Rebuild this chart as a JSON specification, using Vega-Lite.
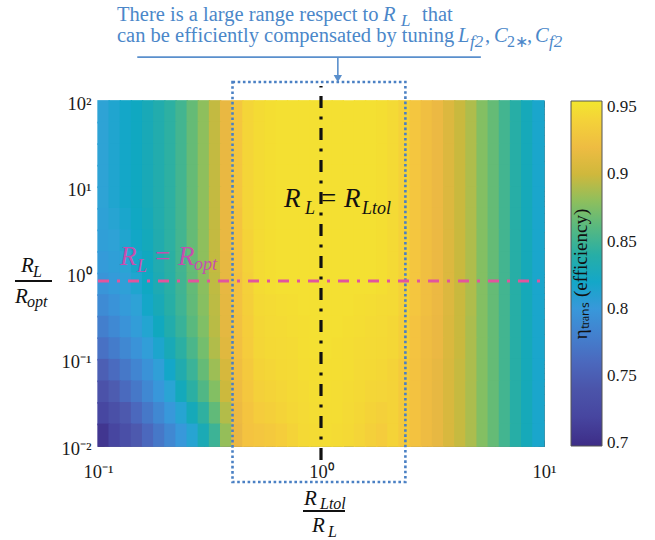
{
"$schema":"https://vega.github.io/schema/vega-lite/v6.json",
"width":446,"height":345,
"autosize":{"type":"none"},
"padding":{"left":98,"top":101,"right":111,"bottom":94},
"background":"white",
"config":{"view":{"stroke":"#7f7f7f","strokeWidth":1},"text":{"font":"Liberation Serif"},"axis":{"labelFont":"Liberation Serif"},"legend":{"labelFont":"Liberation Serif","titleFont":"Liberation Serif"}},
"datasets":{"eff":[
{"lx":-0.975,"ly":1.875,"eff":0.812},{"lx":-0.925,"ly":1.875,"eff":0.816},{"lx":-0.875,"ly":1.875,"eff":0.82},{"lx":-0.825,"ly":1.875,"eff":0.824},{"lx":-0.775,"ly":1.875,"eff":0.829},{"lx":-0.725,"ly":1.875,"eff":0.835},{"lx":-0.675,"ly":1.875,"eff":0.843},{"lx":-0.625,"ly":1.875,"eff":0.853},{"lx":-0.575,"ly":1.875,"eff":0.866},{"lx":-0.525,"ly":1.875,"eff":0.88},{"lx":-0.475,"ly":1.875,"eff":0.896},{"lx":-0.425,"ly":1.875,"eff":0.914},{"lx":-0.375,"ly":1.875,"eff":0.932},{"lx":-0.325,"ly":1.875,"eff":0.942},{"lx":-0.275,"ly":1.875,"eff":0.947},{"lx":-0.225,"ly":1.875,"eff":0.949},{"lx":-0.175,"ly":1.875,"eff":0.95},{"lx":-0.125,"ly":1.875,"eff":0.95},{"lx":-0.075,"ly":1.875,"eff":0.95},{"lx":-0.025,"ly":1.875,"eff":0.95},{"lx":0.025,"ly":1.875,"eff":0.95},{"lx":0.075,"ly":1.875,"eff":0.95},{"lx":0.125,"ly":1.875,"eff":0.95},{"lx":0.175,"ly":1.875,"eff":0.95},{"lx":0.225,"ly":1.875,"eff":0.95},{"lx":0.275,"ly":1.875,"eff":0.949},{"lx":0.325,"ly":1.875,"eff":0.946},{"lx":0.375,"ly":1.875,"eff":0.94},{"lx":0.425,"ly":1.875,"eff":0.932},{"lx":0.475,"ly":1.875,"eff":0.924},{"lx":0.525,"ly":1.875,"eff":0.916},{"lx":0.575,"ly":1.875,"eff":0.907},{"lx":0.625,"ly":1.875,"eff":0.898},{"lx":0.675,"ly":1.875,"eff":0.889},{"lx":0.725,"ly":1.875,"eff":0.877},{"lx":0.775,"ly":1.875,"eff":0.866},{"lx":0.825,"ly":1.875,"eff":0.853},{"lx":0.875,"ly":1.875,"eff":0.84},{"lx":0.925,"ly":1.875,"eff":0.828},{"lx":0.975,"ly":1.875,"eff":0.818},
{"lx":-0.975,"ly":1.625,"eff":0.812},{"lx":-0.925,"ly":1.625,"eff":0.816},{"lx":-0.875,"ly":1.625,"eff":0.82},{"lx":-0.825,"ly":1.625,"eff":0.824},{"lx":-0.775,"ly":1.625,"eff":0.829},{"lx":-0.725,"ly":1.625,"eff":0.835},{"lx":-0.675,"ly":1.625,"eff":0.843},{"lx":-0.625,"ly":1.625,"eff":0.853},{"lx":-0.575,"ly":1.625,"eff":0.866},{"lx":-0.525,"ly":1.625,"eff":0.88},{"lx":-0.475,"ly":1.625,"eff":0.896},{"lx":-0.425,"ly":1.625,"eff":0.914},{"lx":-0.375,"ly":1.625,"eff":0.932},{"lx":-0.325,"ly":1.625,"eff":0.942},{"lx":-0.275,"ly":1.625,"eff":0.947},{"lx":-0.225,"ly":1.625,"eff":0.949},{"lx":-0.175,"ly":1.625,"eff":0.95},{"lx":-0.125,"ly":1.625,"eff":0.95},{"lx":-0.075,"ly":1.625,"eff":0.95},{"lx":-0.025,"ly":1.625,"eff":0.95},{"lx":0.025,"ly":1.625,"eff":0.95},{"lx":0.075,"ly":1.625,"eff":0.95},{"lx":0.125,"ly":1.625,"eff":0.95},{"lx":0.175,"ly":1.625,"eff":0.95},{"lx":0.225,"ly":1.625,"eff":0.95},{"lx":0.275,"ly":1.625,"eff":0.949},{"lx":0.325,"ly":1.625,"eff":0.946},{"lx":0.375,"ly":1.625,"eff":0.94},{"lx":0.425,"ly":1.625,"eff":0.932},{"lx":0.475,"ly":1.625,"eff":0.924},{"lx":0.525,"ly":1.625,"eff":0.916},{"lx":0.575,"ly":1.625,"eff":0.907},{"lx":0.625,"ly":1.625,"eff":0.898},{"lx":0.675,"ly":1.625,"eff":0.889},{"lx":0.725,"ly":1.625,"eff":0.877},{"lx":0.775,"ly":1.625,"eff":0.866},{"lx":0.825,"ly":1.625,"eff":0.853},{"lx":0.875,"ly":1.625,"eff":0.84},{"lx":0.925,"ly":1.625,"eff":0.828},{"lx":0.975,"ly":1.625,"eff":0.818},
{"lx":-0.975,"ly":1.375,"eff":0.812},{"lx":-0.925,"ly":1.375,"eff":0.816},{"lx":-0.875,"ly":1.375,"eff":0.82},{"lx":-0.825,"ly":1.375,"eff":0.824},{"lx":-0.775,"ly":1.375,"eff":0.829},{"lx":-0.725,"ly":1.375,"eff":0.835},{"lx":-0.675,"ly":1.375,"eff":0.843},{"lx":-0.625,"ly":1.375,"eff":0.853},{"lx":-0.575,"ly":1.375,"eff":0.866},{"lx":-0.525,"ly":1.375,"eff":0.88},{"lx":-0.475,"ly":1.375,"eff":0.896},{"lx":-0.425,"ly":1.375,"eff":0.914},{"lx":-0.375,"ly":1.375,"eff":0.932},{"lx":-0.325,"ly":1.375,"eff":0.942},{"lx":-0.275,"ly":1.375,"eff":0.947},{"lx":-0.225,"ly":1.375,"eff":0.949},{"lx":-0.175,"ly":1.375,"eff":0.95},{"lx":-0.125,"ly":1.375,"eff":0.95},{"lx":-0.075,"ly":1.375,"eff":0.95},{"lx":-0.025,"ly":1.375,"eff":0.95},{"lx":0.025,"ly":1.375,"eff":0.95},{"lx":0.075,"ly":1.375,"eff":0.95},{"lx":0.125,"ly":1.375,"eff":0.95},{"lx":0.175,"ly":1.375,"eff":0.95},{"lx":0.225,"ly":1.375,"eff":0.95},{"lx":0.275,"ly":1.375,"eff":0.949},{"lx":0.325,"ly":1.375,"eff":0.946},{"lx":0.375,"ly":1.375,"eff":0.94},{"lx":0.425,"ly":1.375,"eff":0.932},{"lx":0.475,"ly":1.375,"eff":0.924},{"lx":0.525,"ly":1.375,"eff":0.916},{"lx":0.575,"ly":1.375,"eff":0.907},{"lx":0.625,"ly":1.375,"eff":0.898},{"lx":0.675,"ly":1.375,"eff":0.889},{"lx":0.725,"ly":1.375,"eff":0.877},{"lx":0.775,"ly":1.375,"eff":0.866},{"lx":0.825,"ly":1.375,"eff":0.853},{"lx":0.875,"ly":1.375,"eff":0.84},{"lx":0.925,"ly":1.375,"eff":0.828},{"lx":0.975,"ly":1.375,"eff":0.818},
{"lx":-0.975,"ly":1.125,"eff":0.812},{"lx":-0.925,"ly":1.125,"eff":0.816},{"lx":-0.875,"ly":1.125,"eff":0.82},{"lx":-0.825,"ly":1.125,"eff":0.824},{"lx":-0.775,"ly":1.125,"eff":0.829},{"lx":-0.725,"ly":1.125,"eff":0.835},{"lx":-0.675,"ly":1.125,"eff":0.843},{"lx":-0.625,"ly":1.125,"eff":0.853},{"lx":-0.575,"ly":1.125,"eff":0.866},{"lx":-0.525,"ly":1.125,"eff":0.88},{"lx":-0.475,"ly":1.125,"eff":0.896},{"lx":-0.425,"ly":1.125,"eff":0.914},{"lx":-0.375,"ly":1.125,"eff":0.932},{"lx":-0.325,"ly":1.125,"eff":0.942},{"lx":-0.275,"ly":1.125,"eff":0.947},{"lx":-0.225,"ly":1.125,"eff":0.949},{"lx":-0.175,"ly":1.125,"eff":0.95},{"lx":-0.125,"ly":1.125,"eff":0.95},{"lx":-0.075,"ly":1.125,"eff":0.95},{"lx":-0.025,"ly":1.125,"eff":0.95},{"lx":0.025,"ly":1.125,"eff":0.95},{"lx":0.075,"ly":1.125,"eff":0.95},{"lx":0.125,"ly":1.125,"eff":0.95},{"lx":0.175,"ly":1.125,"eff":0.95},{"lx":0.225,"ly":1.125,"eff":0.95},{"lx":0.275,"ly":1.125,"eff":0.949},{"lx":0.325,"ly":1.125,"eff":0.946},{"lx":0.375,"ly":1.125,"eff":0.94},{"lx":0.425,"ly":1.125,"eff":0.932},{"lx":0.475,"ly":1.125,"eff":0.924},{"lx":0.525,"ly":1.125,"eff":0.916},{"lx":0.575,"ly":1.125,"eff":0.907},{"lx":0.625,"ly":1.125,"eff":0.898},{"lx":0.675,"ly":1.125,"eff":0.889},{"lx":0.725,"ly":1.125,"eff":0.877},{"lx":0.775,"ly":1.125,"eff":0.866},{"lx":0.825,"ly":1.125,"eff":0.853},{"lx":0.875,"ly":1.125,"eff":0.84},{"lx":0.925,"ly":1.125,"eff":0.828},{"lx":0.975,"ly":1.125,"eff":0.818},
{"lx":-0.975,"ly":0.875,"eff":0.812},{"lx":-0.925,"ly":0.875,"eff":0.816},{"lx":-0.875,"ly":0.875,"eff":0.82},{"lx":-0.825,"ly":0.875,"eff":0.824},{"lx":-0.775,"ly":0.875,"eff":0.829},{"lx":-0.725,"ly":0.875,"eff":0.835},{"lx":-0.675,"ly":0.875,"eff":0.843},{"lx":-0.625,"ly":0.875,"eff":0.853},{"lx":-0.575,"ly":0.875,"eff":0.866},{"lx":-0.525,"ly":0.875,"eff":0.88},{"lx":-0.475,"ly":0.875,"eff":0.896},{"lx":-0.425,"ly":0.875,"eff":0.914},{"lx":-0.375,"ly":0.875,"eff":0.932},{"lx":-0.325,"ly":0.875,"eff":0.942},{"lx":-0.275,"ly":0.875,"eff":0.947},{"lx":-0.225,"ly":0.875,"eff":0.949},{"lx":-0.175,"ly":0.875,"eff":0.95},{"lx":-0.125,"ly":0.875,"eff":0.95},{"lx":-0.075,"ly":0.875,"eff":0.95},{"lx":-0.025,"ly":0.875,"eff":0.95},{"lx":0.025,"ly":0.875,"eff":0.95},{"lx":0.075,"ly":0.875,"eff":0.95},{"lx":0.125,"ly":0.875,"eff":0.95},{"lx":0.175,"ly":0.875,"eff":0.95},{"lx":0.225,"ly":0.875,"eff":0.95},{"lx":0.275,"ly":0.875,"eff":0.949},{"lx":0.325,"ly":0.875,"eff":0.946},{"lx":0.375,"ly":0.875,"eff":0.94},{"lx":0.425,"ly":0.875,"eff":0.932},{"lx":0.475,"ly":0.875,"eff":0.924},{"lx":0.525,"ly":0.875,"eff":0.916},{"lx":0.575,"ly":0.875,"eff":0.907},{"lx":0.625,"ly":0.875,"eff":0.898},{"lx":0.675,"ly":0.875,"eff":0.889},{"lx":0.725,"ly":0.875,"eff":0.877},{"lx":0.775,"ly":0.875,"eff":0.866},{"lx":0.825,"ly":0.875,"eff":0.853},{"lx":0.875,"ly":0.875,"eff":0.84},{"lx":0.925,"ly":0.875,"eff":0.828},{"lx":0.975,"ly":0.875,"eff":0.818},
{"lx":-0.975,"ly":0.625,"eff":0.81},{"lx":-0.925,"ly":0.625,"eff":0.814},{"lx":-0.875,"ly":0.625,"eff":0.818},{"lx":-0.825,"ly":0.625,"eff":0.823},{"lx":-0.775,"ly":0.625,"eff":0.828},{"lx":-0.725,"ly":0.625,"eff":0.835},{"lx":-0.675,"ly":0.625,"eff":0.843},{"lx":-0.625,"ly":0.625,"eff":0.853},{"lx":-0.575,"ly":0.625,"eff":0.866},{"lx":-0.525,"ly":0.625,"eff":0.88},{"lx":-0.475,"ly":0.625,"eff":0.896},{"lx":-0.425,"ly":0.625,"eff":0.914},{"lx":-0.375,"ly":0.625,"eff":0.931},{"lx":-0.325,"ly":0.625,"eff":0.942},{"lx":-0.275,"ly":0.625,"eff":0.947},{"lx":-0.225,"ly":0.625,"eff":0.949},{"lx":-0.175,"ly":0.625,"eff":0.95},{"lx":-0.125,"ly":0.625,"eff":0.95},{"lx":-0.075,"ly":0.625,"eff":0.95},{"lx":-0.025,"ly":0.625,"eff":0.95},{"lx":0.025,"ly":0.625,"eff":0.95},{"lx":0.075,"ly":0.625,"eff":0.95},{"lx":0.125,"ly":0.625,"eff":0.95},{"lx":0.175,"ly":0.625,"eff":0.95},{"lx":0.225,"ly":0.625,"eff":0.95},{"lx":0.275,"ly":0.625,"eff":0.949},{"lx":0.325,"ly":0.625,"eff":0.946},{"lx":0.375,"ly":0.625,"eff":0.94},{"lx":0.425,"ly":0.625,"eff":0.932},{"lx":0.475,"ly":0.625,"eff":0.924},{"lx":0.525,"ly":0.625,"eff":0.916},{"lx":0.575,"ly":0.625,"eff":0.907},{"lx":0.625,"ly":0.625,"eff":0.898},{"lx":0.675,"ly":0.625,"eff":0.889},{"lx":0.725,"ly":0.625,"eff":0.877},{"lx":0.775,"ly":0.625,"eff":0.866},{"lx":0.825,"ly":0.625,"eff":0.853},{"lx":0.875,"ly":0.625,"eff":0.84},{"lx":0.925,"ly":0.625,"eff":0.828},{"lx":0.975,"ly":0.625,"eff":0.818},
{"lx":-0.975,"ly":0.375,"eff":0.807},{"lx":-0.925,"ly":0.375,"eff":0.811},{"lx":-0.875,"ly":0.375,"eff":0.816},{"lx":-0.825,"ly":0.375,"eff":0.821},{"lx":-0.775,"ly":0.375,"eff":0.827},{"lx":-0.725,"ly":0.375,"eff":0.834},{"lx":-0.675,"ly":0.375,"eff":0.843},{"lx":-0.625,"ly":0.375,"eff":0.853},{"lx":-0.575,"ly":0.375,"eff":0.866},{"lx":-0.525,"ly":0.375,"eff":0.88},{"lx":-0.475,"ly":0.375,"eff":0.896},{"lx":-0.425,"ly":0.375,"eff":0.914},{"lx":-0.375,"ly":0.375,"eff":0.931},{"lx":-0.325,"ly":0.375,"eff":0.941},{"lx":-0.275,"ly":0.375,"eff":0.947},{"lx":-0.225,"ly":0.375,"eff":0.949},{"lx":-0.175,"ly":0.375,"eff":0.95},{"lx":-0.125,"ly":0.375,"eff":0.95},{"lx":-0.075,"ly":0.375,"eff":0.95},{"lx":-0.025,"ly":0.375,"eff":0.95},{"lx":0.025,"ly":0.375,"eff":0.95},{"lx":0.075,"ly":0.375,"eff":0.95},{"lx":0.125,"ly":0.375,"eff":0.95},{"lx":0.175,"ly":0.375,"eff":0.95},{"lx":0.225,"ly":0.375,"eff":0.95},{"lx":0.275,"ly":0.375,"eff":0.949},{"lx":0.325,"ly":0.375,"eff":0.946},{"lx":0.375,"ly":0.375,"eff":0.94},{"lx":0.425,"ly":0.375,"eff":0.932},{"lx":0.475,"ly":0.375,"eff":0.924},{"lx":0.525,"ly":0.375,"eff":0.916},{"lx":0.575,"ly":0.375,"eff":0.907},{"lx":0.625,"ly":0.375,"eff":0.898},{"lx":0.675,"ly":0.375,"eff":0.889},{"lx":0.725,"ly":0.375,"eff":0.877},{"lx":0.775,"ly":0.375,"eff":0.866},{"lx":0.825,"ly":0.375,"eff":0.853},{"lx":0.875,"ly":0.375,"eff":0.84},{"lx":0.925,"ly":0.375,"eff":0.828},{"lx":0.975,"ly":0.375,"eff":0.818},
{"lx":-0.975,"ly":0.125,"eff":0.803},{"lx":-0.925,"ly":0.125,"eff":0.808},{"lx":-0.875,"ly":0.125,"eff":0.813},{"lx":-0.825,"ly":0.125,"eff":0.819},{"lx":-0.775,"ly":0.125,"eff":0.825},{"lx":-0.725,"ly":0.125,"eff":0.833},{"lx":-0.675,"ly":0.125,"eff":0.842},{"lx":-0.625,"ly":0.125,"eff":0.853},{"lx":-0.575,"ly":0.125,"eff":0.866},{"lx":-0.525,"ly":0.125,"eff":0.88},{"lx":-0.475,"ly":0.125,"eff":0.896},{"lx":-0.425,"ly":0.125,"eff":0.913},{"lx":-0.375,"ly":0.125,"eff":0.93},{"lx":-0.325,"ly":0.125,"eff":0.94},{"lx":-0.275,"ly":0.125,"eff":0.947},{"lx":-0.225,"ly":0.125,"eff":0.949},{"lx":-0.175,"ly":0.125,"eff":0.95},{"lx":-0.125,"ly":0.125,"eff":0.95},{"lx":-0.075,"ly":0.125,"eff":0.95},{"lx":-0.025,"ly":0.125,"eff":0.95},{"lx":0.025,"ly":0.125,"eff":0.95},{"lx":0.075,"ly":0.125,"eff":0.95},{"lx":0.125,"ly":0.125,"eff":0.95},{"lx":0.175,"ly":0.125,"eff":0.95},{"lx":0.225,"ly":0.125,"eff":0.95},{"lx":0.275,"ly":0.125,"eff":0.949},{"lx":0.325,"ly":0.125,"eff":0.946},{"lx":0.375,"ly":0.125,"eff":0.94},{"lx":0.425,"ly":0.125,"eff":0.932},{"lx":0.475,"ly":0.125,"eff":0.924},{"lx":0.525,"ly":0.125,"eff":0.916},{"lx":0.575,"ly":0.125,"eff":0.907},{"lx":0.625,"ly":0.125,"eff":0.898},{"lx":0.675,"ly":0.125,"eff":0.889},{"lx":0.725,"ly":0.125,"eff":0.877},{"lx":0.775,"ly":0.125,"eff":0.866},{"lx":0.825,"ly":0.125,"eff":0.853},{"lx":0.875,"ly":0.125,"eff":0.84},{"lx":0.925,"ly":0.125,"eff":0.828},{"lx":0.975,"ly":0.125,"eff":0.818},
{"lx":-0.975,"ly":-0.125,"eff":0.797},{"lx":-0.925,"ly":-0.125,"eff":0.803},{"lx":-0.875,"ly":-0.125,"eff":0.809},{"lx":-0.825,"ly":-0.125,"eff":0.816},{"lx":-0.775,"ly":-0.125,"eff":0.823},{"lx":-0.725,"ly":-0.125,"eff":0.831},{"lx":-0.675,"ly":-0.125,"eff":0.841},{"lx":-0.625,"ly":-0.125,"eff":0.852},{"lx":-0.575,"ly":-0.125,"eff":0.865},{"lx":-0.525,"ly":-0.125,"eff":0.879},{"lx":-0.475,"ly":-0.125,"eff":0.895},{"lx":-0.425,"ly":-0.125,"eff":0.913},{"lx":-0.375,"ly":-0.125,"eff":0.929},{"lx":-0.325,"ly":-0.125,"eff":0.939},{"lx":-0.275,"ly":-0.125,"eff":0.947},{"lx":-0.225,"ly":-0.125,"eff":0.949},{"lx":-0.175,"ly":-0.125,"eff":0.95},{"lx":-0.125,"ly":-0.125,"eff":0.95},{"lx":-0.075,"ly":-0.125,"eff":0.95},{"lx":-0.025,"ly":-0.125,"eff":0.95},{"lx":0.025,"ly":-0.125,"eff":0.95},{"lx":0.075,"ly":-0.125,"eff":0.95},{"lx":0.125,"ly":-0.125,"eff":0.95},{"lx":0.175,"ly":-0.125,"eff":0.95},{"lx":0.225,"ly":-0.125,"eff":0.95},{"lx":0.275,"ly":-0.125,"eff":0.949},{"lx":0.325,"ly":-0.125,"eff":0.946},{"lx":0.375,"ly":-0.125,"eff":0.94},{"lx":0.425,"ly":-0.125,"eff":0.932},{"lx":0.475,"ly":-0.125,"eff":0.924},{"lx":0.525,"ly":-0.125,"eff":0.916},{"lx":0.575,"ly":-0.125,"eff":0.907},{"lx":0.625,"ly":-0.125,"eff":0.898},{"lx":0.675,"ly":-0.125,"eff":0.889},{"lx":0.725,"ly":-0.125,"eff":0.877},{"lx":0.775,"ly":-0.125,"eff":0.866},{"lx":0.825,"ly":-0.125,"eff":0.853},{"lx":0.875,"ly":-0.125,"eff":0.84},{"lx":0.925,"ly":-0.125,"eff":0.828},{"lx":0.975,"ly":-0.125,"eff":0.818},
{"lx":-0.975,"ly":-0.375,"eff":0.789},{"lx":-0.925,"ly":-0.375,"eff":0.796},{"lx":-0.875,"ly":-0.375,"eff":0.803},{"lx":-0.825,"ly":-0.375,"eff":0.811},{"lx":-0.775,"ly":-0.375,"eff":0.82},{"lx":-0.725,"ly":-0.375,"eff":0.829},{"lx":-0.675,"ly":-0.375,"eff":0.84},{"lx":-0.625,"ly":-0.375,"eff":0.851},{"lx":-0.575,"ly":-0.375,"eff":0.864},{"lx":-0.525,"ly":-0.375,"eff":0.878},{"lx":-0.475,"ly":-0.375,"eff":0.894},{"lx":-0.425,"ly":-0.375,"eff":0.912},{"lx":-0.375,"ly":-0.375,"eff":0.928},{"lx":-0.325,"ly":-0.375,"eff":0.938},{"lx":-0.275,"ly":-0.375,"eff":0.945},{"lx":-0.225,"ly":-0.375,"eff":0.947},{"lx":-0.175,"ly":-0.375,"eff":0.948},{"lx":-0.125,"ly":-0.375,"eff":0.949},{"lx":-0.075,"ly":-0.375,"eff":0.95},{"lx":-0.025,"ly":-0.375,"eff":0.95},{"lx":0.025,"ly":-0.375,"eff":0.95},{"lx":0.075,"ly":-0.375,"eff":0.95},{"lx":0.125,"ly":-0.375,"eff":0.95},{"lx":0.175,"ly":-0.375,"eff":0.949},{"lx":0.225,"ly":-0.375,"eff":0.948},{"lx":0.275,"ly":-0.375,"eff":0.947},{"lx":0.325,"ly":-0.375,"eff":0.946},{"lx":0.375,"ly":-0.375,"eff":0.94},{"lx":0.425,"ly":-0.375,"eff":0.932},{"lx":0.475,"ly":-0.375,"eff":0.924},{"lx":0.525,"ly":-0.375,"eff":0.916},{"lx":0.575,"ly":-0.375,"eff":0.907},{"lx":0.625,"ly":-0.375,"eff":0.898},{"lx":0.675,"ly":-0.375,"eff":0.889},{"lx":0.725,"ly":-0.375,"eff":0.877},{"lx":0.775,"ly":-0.375,"eff":0.866},{"lx":0.825,"ly":-0.375,"eff":0.853},{"lx":0.875,"ly":-0.375,"eff":0.84},{"lx":0.925,"ly":-0.375,"eff":0.828},{"lx":0.975,"ly":-0.375,"eff":0.818},
{"lx":-0.975,"ly":-0.625,"eff":0.779},{"lx":-0.925,"ly":-0.625,"eff":0.787},{"lx":-0.875,"ly":-0.625,"eff":0.796},{"lx":-0.825,"ly":-0.625,"eff":0.805},{"lx":-0.775,"ly":-0.625,"eff":0.815},{"lx":-0.725,"ly":-0.625,"eff":0.825},{"lx":-0.675,"ly":-0.625,"eff":0.836},{"lx":-0.625,"ly":-0.625,"eff":0.848},{"lx":-0.575,"ly":-0.625,"eff":0.861},{"lx":-0.525,"ly":-0.625,"eff":0.876},{"lx":-0.475,"ly":-0.625,"eff":0.893},{"lx":-0.425,"ly":-0.625,"eff":0.911},{"lx":-0.375,"ly":-0.625,"eff":0.927},{"lx":-0.325,"ly":-0.625,"eff":0.937},{"lx":-0.275,"ly":-0.625,"eff":0.944},{"lx":-0.225,"ly":-0.625,"eff":0.946},{"lx":-0.175,"ly":-0.625,"eff":0.947},{"lx":-0.125,"ly":-0.625,"eff":0.948},{"lx":-0.075,"ly":-0.625,"eff":0.949},{"lx":-0.025,"ly":-0.625,"eff":0.95},{"lx":0.025,"ly":-0.625,"eff":0.95},{"lx":0.075,"ly":-0.625,"eff":0.95},{"lx":0.125,"ly":-0.625,"eff":0.949},{"lx":0.175,"ly":-0.625,"eff":0.948},{"lx":0.225,"ly":-0.625,"eff":0.947},{"lx":0.275,"ly":-0.625,"eff":0.946},{"lx":0.325,"ly":-0.625,"eff":0.944},{"lx":0.375,"ly":-0.625,"eff":0.938},{"lx":0.425,"ly":-0.625,"eff":0.93},{"lx":0.475,"ly":-0.625,"eff":0.922},{"lx":0.525,"ly":-0.625,"eff":0.915},{"lx":0.575,"ly":-0.625,"eff":0.906},{"lx":0.625,"ly":-0.625,"eff":0.898},{"lx":0.675,"ly":-0.625,"eff":0.888},{"lx":0.725,"ly":-0.625,"eff":0.877},{"lx":0.775,"ly":-0.625,"eff":0.866},{"lx":0.825,"ly":-0.625,"eff":0.853},{"lx":0.875,"ly":-0.625,"eff":0.84},{"lx":0.925,"ly":-0.625,"eff":0.828},{"lx":0.975,"ly":-0.625,"eff":0.818},
{"lx":-0.975,"ly":-0.875,"eff":0.767},{"lx":-0.925,"ly":-0.875,"eff":0.776},{"lx":-0.875,"ly":-0.875,"eff":0.786},{"lx":-0.825,"ly":-0.875,"eff":0.796},{"lx":-0.775,"ly":-0.875,"eff":0.806},{"lx":-0.725,"ly":-0.875,"eff":0.817},{"lx":-0.675,"ly":-0.875,"eff":0.829},{"lx":-0.625,"ly":-0.875,"eff":0.842},{"lx":-0.575,"ly":-0.875,"eff":0.856},{"lx":-0.525,"ly":-0.875,"eff":0.872},{"lx":-0.475,"ly":-0.875,"eff":0.89},{"lx":-0.425,"ly":-0.875,"eff":0.909},{"lx":-0.375,"ly":-0.875,"eff":0.926},{"lx":-0.325,"ly":-0.875,"eff":0.936},{"lx":-0.275,"ly":-0.875,"eff":0.943},{"lx":-0.225,"ly":-0.875,"eff":0.945},{"lx":-0.175,"ly":-0.875,"eff":0.946},{"lx":-0.125,"ly":-0.875,"eff":0.947},{"lx":-0.075,"ly":-0.875,"eff":0.949},{"lx":-0.025,"ly":-0.875,"eff":0.95},{"lx":0.025,"ly":-0.875,"eff":0.95},{"lx":0.075,"ly":-0.875,"eff":0.949},{"lx":0.125,"ly":-0.875,"eff":0.948},{"lx":0.175,"ly":-0.875,"eff":0.947},{"lx":0.225,"ly":-0.875,"eff":0.946},{"lx":0.275,"ly":-0.875,"eff":0.945},{"lx":0.325,"ly":-0.875,"eff":0.944},{"lx":0.375,"ly":-0.875,"eff":0.938},{"lx":0.425,"ly":-0.875,"eff":0.93},{"lx":0.475,"ly":-0.875,"eff":0.922},{"lx":0.525,"ly":-0.875,"eff":0.915},{"lx":0.575,"ly":-0.875,"eff":0.906},{"lx":0.625,"ly":-0.875,"eff":0.898},{"lx":0.675,"ly":-0.875,"eff":0.888},{"lx":0.725,"ly":-0.875,"eff":0.877},{"lx":0.775,"ly":-0.875,"eff":0.866},{"lx":0.825,"ly":-0.875,"eff":0.853},{"lx":0.875,"ly":-0.875,"eff":0.84},{"lx":0.925,"ly":-0.875,"eff":0.828},{"lx":0.975,"ly":-0.875,"eff":0.818},
{"lx":-0.975,"ly":-1.125,"eff":0.752},{"lx":-0.925,"ly":-1.125,"eff":0.762},{"lx":-0.875,"ly":-1.125,"eff":0.773},{"lx":-0.825,"ly":-1.125,"eff":0.784},{"lx":-0.775,"ly":-1.125,"eff":0.795},{"lx":-0.725,"ly":-1.125,"eff":0.807},{"lx":-0.675,"ly":-1.125,"eff":0.82},{"lx":-0.625,"ly":-1.125,"eff":0.834},{"lx":-0.575,"ly":-1.125,"eff":0.849},{"lx":-0.525,"ly":-1.125,"eff":0.866},{"lx":-0.475,"ly":-1.125,"eff":0.884},{"lx":-0.425,"ly":-1.125,"eff":0.904},{"lx":-0.375,"ly":-1.125,"eff":0.923},{"lx":-0.325,"ly":-1.125,"eff":0.934},{"lx":-0.275,"ly":-1.125,"eff":0.941},{"lx":-0.225,"ly":-1.125,"eff":0.943},{"lx":-0.175,"ly":-1.125,"eff":0.945},{"lx":-0.125,"ly":-1.125,"eff":0.946},{"lx":-0.075,"ly":-1.125,"eff":0.948},{"lx":-0.025,"ly":-1.125,"eff":0.949},{"lx":0.025,"ly":-1.125,"eff":0.949},{"lx":0.075,"ly":-1.125,"eff":0.949},{"lx":0.125,"ly":-1.125,"eff":0.948},{"lx":0.175,"ly":-1.125,"eff":0.946},{"lx":0.225,"ly":-1.125,"eff":0.945},{"lx":0.275,"ly":-1.125,"eff":0.944},{"lx":0.325,"ly":-1.125,"eff":0.941},{"lx":0.375,"ly":-1.125,"eff":0.935},{"lx":0.425,"ly":-1.125,"eff":0.928},{"lx":0.475,"ly":-1.125,"eff":0.92},{"lx":0.525,"ly":-1.125,"eff":0.913},{"lx":0.575,"ly":-1.125,"eff":0.905},{"lx":0.625,"ly":-1.125,"eff":0.897},{"lx":0.675,"ly":-1.125,"eff":0.888},{"lx":0.725,"ly":-1.125,"eff":0.877},{"lx":0.775,"ly":-1.125,"eff":0.866},{"lx":0.825,"ly":-1.125,"eff":0.853},{"lx":0.875,"ly":-1.125,"eff":0.84},{"lx":0.925,"ly":-1.125,"eff":0.828},{"lx":0.975,"ly":-1.125,"eff":0.818},
{"lx":-0.975,"ly":-1.375,"eff":0.737},{"lx":-0.925,"ly":-1.375,"eff":0.749},{"lx":-0.875,"ly":-1.375,"eff":0.761},{"lx":-0.825,"ly":-1.375,"eff":0.773},{"lx":-0.775,"ly":-1.375,"eff":0.786},{"lx":-0.725,"ly":-1.375,"eff":0.799},{"lx":-0.675,"ly":-1.375,"eff":0.813},{"lx":-0.625,"ly":-1.375,"eff":0.827},{"lx":-0.575,"ly":-1.375,"eff":0.842},{"lx":-0.525,"ly":-1.375,"eff":0.858},{"lx":-0.475,"ly":-1.375,"eff":0.877},{"lx":-0.425,"ly":-1.375,"eff":0.899},{"lx":-0.375,"ly":-1.375,"eff":0.921},{"lx":-0.325,"ly":-1.375,"eff":0.933},{"lx":-0.275,"ly":-1.375,"eff":0.939},{"lx":-0.225,"ly":-1.375,"eff":0.941},{"lx":-0.175,"ly":-1.375,"eff":0.943},{"lx":-0.125,"ly":-1.375,"eff":0.945},{"lx":-0.075,"ly":-1.375,"eff":0.947},{"lx":-0.025,"ly":-1.375,"eff":0.949},{"lx":0.025,"ly":-1.375,"eff":0.949},{"lx":0.075,"ly":-1.375,"eff":0.948},{"lx":0.125,"ly":-1.375,"eff":0.947},{"lx":0.175,"ly":-1.375,"eff":0.945},{"lx":0.225,"ly":-1.375,"eff":0.943},{"lx":0.275,"ly":-1.375,"eff":0.942},{"lx":0.325,"ly":-1.375,"eff":0.941},{"lx":0.375,"ly":-1.375,"eff":0.935},{"lx":0.425,"ly":-1.375,"eff":0.928},{"lx":0.475,"ly":-1.375,"eff":0.92},{"lx":0.525,"ly":-1.375,"eff":0.913},{"lx":0.575,"ly":-1.375,"eff":0.905},{"lx":0.625,"ly":-1.375,"eff":0.897},{"lx":0.675,"ly":-1.375,"eff":0.888},{"lx":0.725,"ly":-1.375,"eff":0.877},{"lx":0.775,"ly":-1.375,"eff":0.866},{"lx":0.825,"ly":-1.375,"eff":0.853},{"lx":0.875,"ly":-1.375,"eff":0.84},{"lx":0.925,"ly":-1.375,"eff":0.828},{"lx":0.975,"ly":-1.375,"eff":0.818},
{"lx":-0.975,"ly":-1.625,"eff":0.721},{"lx":-0.925,"ly":-1.625,"eff":0.734},{"lx":-0.875,"ly":-1.625,"eff":0.747},{"lx":-0.825,"ly":-1.625,"eff":0.76},{"lx":-0.775,"ly":-1.625,"eff":0.773},{"lx":-0.725,"ly":-1.625,"eff":0.786},{"lx":-0.675,"ly":-1.625,"eff":0.8},{"lx":-0.625,"ly":-1.625,"eff":0.814},{"lx":-0.575,"ly":-1.625,"eff":0.828},{"lx":-0.525,"ly":-1.625,"eff":0.844},{"lx":-0.475,"ly":-1.625,"eff":0.864},{"lx":-0.425,"ly":-1.625,"eff":0.891},{"lx":-0.375,"ly":-1.625,"eff":0.918},{"lx":-0.325,"ly":-1.625,"eff":0.931},{"lx":-0.275,"ly":-1.625,"eff":0.936},{"lx":-0.225,"ly":-1.625,"eff":0.938},{"lx":-0.175,"ly":-1.625,"eff":0.941},{"lx":-0.125,"ly":-1.625,"eff":0.944},{"lx":-0.075,"ly":-1.625,"eff":0.946},{"lx":-0.025,"ly":-1.625,"eff":0.948},{"lx":0.025,"ly":-1.625,"eff":0.948},{"lx":0.075,"ly":-1.625,"eff":0.948},{"lx":0.125,"ly":-1.625,"eff":0.946},{"lx":0.175,"ly":-1.625,"eff":0.944},{"lx":0.225,"ly":-1.625,"eff":0.941},{"lx":0.275,"ly":-1.625,"eff":0.939},{"lx":0.325,"ly":-1.625,"eff":0.941},{"lx":0.375,"ly":-1.625,"eff":0.935},{"lx":0.425,"ly":-1.625,"eff":0.928},{"lx":0.475,"ly":-1.625,"eff":0.92},{"lx":0.525,"ly":-1.625,"eff":0.913},{"lx":0.575,"ly":-1.625,"eff":0.905},{"lx":0.625,"ly":-1.625,"eff":0.897},{"lx":0.675,"ly":-1.625,"eff":0.888},{"lx":0.725,"ly":-1.625,"eff":0.877},{"lx":0.775,"ly":-1.625,"eff":0.866},{"lx":0.825,"ly":-1.625,"eff":0.853},{"lx":0.875,"ly":-1.625,"eff":0.84},{"lx":0.925,"ly":-1.625,"eff":0.828},{"lx":0.975,"ly":-1.625,"eff":0.818},
{"lx":-0.975,"ly":-1.875,"eff":0.706},{"lx":-0.925,"ly":-1.875,"eff":0.72},{"lx":-0.875,"ly":-1.875,"eff":0.733},{"lx":-0.825,"ly":-1.875,"eff":0.747},{"lx":-0.775,"ly":-1.875,"eff":0.76},{"lx":-0.725,"ly":-1.875,"eff":0.773},{"lx":-0.675,"ly":-1.875,"eff":0.786},{"lx":-0.625,"ly":-1.875,"eff":0.8},{"lx":-0.575,"ly":-1.875,"eff":0.814},{"lx":-0.525,"ly":-1.875,"eff":0.83},{"lx":-0.475,"ly":-1.875,"eff":0.85},{"lx":-0.425,"ly":-1.875,"eff":0.882},{"lx":-0.375,"ly":-1.875,"eff":0.915},{"lx":-0.325,"ly":-1.875,"eff":0.93},{"lx":-0.275,"ly":-1.875,"eff":0.932},{"lx":-0.225,"ly":-1.875,"eff":0.934},{"lx":-0.175,"ly":-1.875,"eff":0.937},{"lx":-0.125,"ly":-1.875,"eff":0.941},{"lx":-0.075,"ly":-1.875,"eff":0.945},{"lx":-0.025,"ly":-1.875,"eff":0.947},{"lx":0.025,"ly":-1.875,"eff":0.948},{"lx":0.075,"ly":-1.875,"eff":0.947},{"lx":0.125,"ly":-1.875,"eff":0.945},{"lx":0.175,"ly":-1.875,"eff":0.942},{"lx":0.225,"ly":-1.875,"eff":0.939},{"lx":0.275,"ly":-1.875,"eff":0.936},{"lx":0.325,"ly":-1.875,"eff":0.941},{"lx":0.375,"ly":-1.875,"eff":0.935},{"lx":0.425,"ly":-1.875,"eff":0.928},{"lx":0.475,"ly":-1.875,"eff":0.92},{"lx":0.525,"ly":-1.875,"eff":0.913},{"lx":0.575,"ly":-1.875,"eff":0.905},{"lx":0.625,"ly":-1.875,"eff":0.897},{"lx":0.675,"ly":-1.875,"eff":0.888},{"lx":0.725,"ly":-1.875,"eff":0.877},{"lx":0.775,"ly":-1.875,"eff":0.866},{"lx":0.825,"ly":-1.875,"eff":0.853},{"lx":0.875,"ly":-1.875,"eff":0.84},{"lx":0.925,"ly":-1.875,"eff":0.828},{"lx":0.975,"ly":-1.875,"eff":0.818}
]},
"layer":[
{
"data":{"name":"eff"},
"mark":{"type":"rect","width":{"band":1.12},"height":{"band":1.08}},
"encoding":{
"x":{"field":"lx","type":"ordinal","axis":null,"scale":{"paddingInner":0,"paddingOuter":0}},
"y":{"field":"ly","type":"ordinal","axis":null,"sort":"descending","scale":{"paddingInner":0,"paddingOuter":0}},
"color":{"field":"eff","type":"quantitative",
"scale":{"domain":[0.698,0.72,0.746,0.763,0.783,0.8,0.812,0.832,0.85,0.862,0.875,0.887,0.9,0.915,0.93,0.943,0.9545],"range":["#3d2d87","#4746a0","#4d58ad","#4a6cc0","#4284d0","#3898da","#2ea3d5","#21aab1","#3db396","#5cb97c","#7cbf68","#a8bd50","#cfb83c","#ebb843","#f4c340","#f4d637","#f3e62e"]},
"legend":{"type":"gradient","orient":"none","legendX":474,"legendY":0,"direction":"vertical",
"title":"\u00a0\u00a0\u00a0\u00a0\u00a0\u00a0\u00a0\u00a0\u00a0\u00a0\u00a0\u00a0ηₜᵣₐₙₛ (efficiency)","titleOrient":"left","titleAnchor":"middle","titleAngle":270,"titlePadding":-21,"titleFontSize":19,"titleFontWeight":"normal","titleColor":"#111111","titleLimit":400,
"gradientLength":345,"gradientThickness":31,"values":[0.7,0.75,0.8,0.85,0.9,0.95],"format":"~g","labelFontSize":17,"labelColor":"#1a1a1a","labelOffset":5,"labelOverlap":false,"gradientStrokeColor":"#555555","gradientStrokeWidth":1,"padding":0}}
}
},
{
"encoding":{
"x":{"field":"x","type":"quantitative","scale":{"type":"log","domain":[0.1,10],"nice":false},
"axis":{"orient":"bottom","title":null,"grid":false,"domain":false,"values":[0.1,0.2,0.3,0.4,0.5,0.6,0.7,0.8,0.9,1,2,3,4,5,6,7,8,9,10],
"labelExpr":"datum.value == 0.1 ? '10⁻¹' : datum.value == 1 ? '10⁰' : datum.value == 10 ? '10¹' : ''",
"tickSize":{"condition":{"test":"datum.value == 0.1 || datum.value == 1 || datum.value == 10","value":-6},"value":-3},
"tickColor":"#555555","labelFontSize":18.5,"labelColor":"#1a1a1a","labelPadding":22,"labelFlush":false,"labelOverlap":false}},
"y":{"field":"y","type":"quantitative","scale":{"type":"log","domain":[0.01,100],"nice":false},
"axis":{"orient":"left","title":null,"grid":false,"domain":false,"values":[0.01,0.02,0.03,0.04,0.05,0.06,0.07,0.08,0.09,0.1,0.2,0.3,0.4,0.5,0.6,0.7,0.8,0.9,1,2,3,4,5,6,7,8,9,10,20,30,40,50,60,70,80,90,100],
"labelExpr":"datum.value == 0.01 ? '10⁻²' : datum.value == 0.1 ? '10⁻¹' : datum.value == 1 ? '10⁰' : datum.value == 10 ? '10¹' : datum.value == 100 ? '10²' : ''",
"tickSize":{"condition":{"test":"datum.value == 0.01 || datum.value == 0.1 || datum.value == 1 || datum.value == 10 || datum.value == 100","value":-6},"value":-3},
"tickColor":"#555555","labelFontSize":18.5,"labelColor":"#1a1a1a","labelPadding":13,"labelFlush":false,"labelOverlap":false,"labelOffset":2}}
},
"layer":[
{"data":{"values":[{"x":0.401,"x2":2.39,"y":0.00383,"y2":166}]},
"mark":{"type":"rect","fillOpacity":0,"stroke":"#4a80c4","strokeWidth":2.6,"strokeDash":[2.6,2.6],"strokeCap":"butt"},
"encoding":{"x2":{"field":"x2"},"y2":{"field":"y2"}}},
{"data":{"values":[{"x":0.1,"x2":10,"y":0.82}]},
"mark":{"type":"rule","stroke":"#e2559d","strokeWidth":3,"strokeDash":[11,8,3,8]},
"encoding":{"x2":{"field":"x2"}}},
{"data":{"values":[{"x":1,"y":0.0069,"y2":149}]},
"mark":{"type":"rule","stroke":"#111111","strokeWidth":3.2,"strokeDash":[12,8.5,3,8.5]},
"encoding":{"y2":{"field":"y2"}}},
{"data":{"values":[{"x":0.15,"x2":5.21,"y":323}]},
"mark":{"type":"rule","stroke":"#5a8fcc","strokeWidth":1.6},
"encoding":{"x2":{"field":"x2"}}},
{"data":{"values":[{"x":1.19,"y":185,"y2":323}]},
"mark":{"type":"rule","stroke":"#5a8fcc","strokeWidth":1.6},
"encoding":{"y2":{"field":"y2"}}},
{"data":{"values":[{"x":1.19,"y":182}]},
"mark":{"type":"point","shape":"triangle-down","filled":true,"size":70,"color":"#5a8fcc","opacity":1},
"encoding":{}},
{"data":{"values":[{"x":0.1217,"y":846.3,"text":"There is a large range respect to"},{"x":2.837,"y":846.3,"text":"that"},{"x":0.1217,"y":483.1,"text":"can be efficiently compensated by tuning"},{"x":5.438,"y":483.1,"text":","},{"x":8.39,"y":483.1,"text":","}]},
"mark":{"type":"text","align":"left","baseline":"alphabetic","fontSize":20.5,"color":"#4b87c9"},
"encoding":{"text":{"field":"text"}}},
{"data":{"values":[{"x":1.897,"y":846.3,"text":"R"},{"x":4.115,"y":483.1,"text":"L"},{"x":5.968,"y":483.1,"text":"C"},{"x":9.112,"y":483.1,"text":"C"}]},
"mark":{"type":"text","align":"left","baseline":"alphabetic","fontSize":20.5,"fontStyle":"italic","color":"#4b87c9"},
"encoding":{"text":{"field":"text"}}},
{"data":{"values":[{"x":2.284,"y":740.7,"text":"L"},{"x":4.658,"y":422.7,"text":"f2"},{"x":10.53,"y":422.7,"text":"f2"}]},
"mark":{"type":"text","align":"left","baseline":"alphabetic","fontSize":17,"fontStyle":"italic","color":"#4b87c9"},
"encoding":{"text":{"field":"text"}}},
{"data":{"values":[{"x":6.825,"y":422.7,"text":"2∗"}]},
"mark":{"type":"text","align":"left","baseline":"alphabetic","fontSize":16,"color":"#4b87c9"},
"encoding":{"text":{"field":"text"}}},
{"data":{"values":[{"x":0.1255,"y":1.255,"text":"R"},{"x":0.2284,"y":1.255,"text":"R"}]},
"mark":{"type":"text","align":"left","baseline":"alphabetic","fontSize":27,"fontStyle":"italic","color":"#c54fae"},
"encoding":{"text":{"field":"text"}}},
{"data":{"values":[{"x":0.1802,"y":1.255,"text":"="}]},
"mark":{"type":"text","align":"left","baseline":"alphabetic","fontSize":27,"color":"#c54fae"},
"encoding":{"text":{"field":"text"}}},
{"data":{"values":[{"x":0.1496,"y":1.041,"text":"L"},{"x":0.2695,"y":1.098,"text":"opt"}]},
"mark":{"type":"text","align":"left","baseline":"alphabetic","fontSize":18,"fontStyle":"italic","color":"#c54fae"},
"encoding":{"text":{"field":"text"}}},
{"data":{"values":[{"x":0.6825,"y":5.902,"text":"R"},{"x":1.268,"y":5.902,"text":"R"}]},
"mark":{"type":"text","align":"left","baseline":"alphabetic","fontSize":27,"fontStyle":"italic","color":"#111111"},
"encoding":{"text":{"field":"text"}}},
{"data":{"values":[{"x":1.0,"y":5.902,"text":"="}]},
"mark":{"type":"text","align":"left","baseline":"alphabetic","fontSize":27,"color":"#111111"},
"encoding":{"text":{"field":"text"}}},
{"data":{"values":[{"x":0.8478,"y":4.897,"text":"L"},{"x":1.527,"y":4.897,"text":"Ltol"}]},
"mark":{"type":"text","align":"left","baseline":"alphabetic","fontSize":18,"fontStyle":"italic","color":"#111111"},
"encoding":{"text":{"field":"text"}}},
{"data":{"values":[{"x":0.04516,"y":1.041,"text":"R"},{"x":0.04244,"y":0.455,"text":"R"},{"x":0.839,"y":0.002069,"text":"R"},{"x":0.9113,"y":0.001007,"text":"R"}]},
"mark":{"type":"text","align":"left","baseline":"alphabetic","fontSize":21,"fontStyle":"italic","color":"#111111"},
"encoding":{"text":{"field":"text"}}},
{"data":{"values":[{"x":0.0511,"y":0.9108,"text":"L"},{"x":0.04803,"y":0.4089,"text":"opt"},{"x":0.9897,"y":0.001861,"text":"Ltol"},{"x":1.075,"y":0.000881,"text":"L"}]},
"mark":{"type":"text","align":"left","baseline":"alphabetic","fontSize":16,"fontStyle":"italic","color":"#111111"},
"encoding":{"text":{"field":"text"}}},
{"data":{"values":[{"x":0.04244,"x2":0.06218,"y":0.8185},{"x":0.8304,"x2":1.2811,"y":0.001764}]},
"mark":{"type":"rule","stroke":"#111111","strokeWidth":1.8},
"encoding":{"x2":{"field":"x2"}}}
]
},
{
"data":{"values":[{"x":1,"y":1}]},
"mark":{"type":"point","opacity":0},
"encoding":{
"x":{"field":"x","type":"quantitative","scale":{"type":"log","domain":[0.1,10],"nice":false},
"axis":{"orient":"top","title":null,"grid":false,"domain":false,"labels":false,"values":[0.1,0.2,0.3,0.4,0.5,0.6,0.7,0.8,0.9,1,2,3,4,5,6,7,8,9,10],
"tickSize":{"condition":{"test":"datum.value == 0.1 || datum.value == 1 || datum.value == 10","value":-6},"value":-3},"tickColor":"#555555"}},
"y":{"field":"y","type":"quantitative","scale":{"type":"log","domain":[0.01,100],"nice":false},
"axis":{"orient":"right","title":null,"grid":false,"domain":false,"labels":false,"values":[0.01,0.02,0.03,0.04,0.05,0.06,0.07,0.08,0.09,0.1,0.2,0.3,0.4,0.5,0.6,0.7,0.8,0.9,1,2,3,4,5,6,7,8,9,10,20,30,40,50,60,70,80,90,100],
"tickSize":{"condition":{"test":"datum.value == 0.01 || datum.value == 0.1 || datum.value == 1 || datum.value == 10 || datum.value == 100","value":-6},"value":-3},"tickColor":"#555555"}}
}
}
],
"resolve":{"scale":{"x":"independent","y":"independent"}}
}
